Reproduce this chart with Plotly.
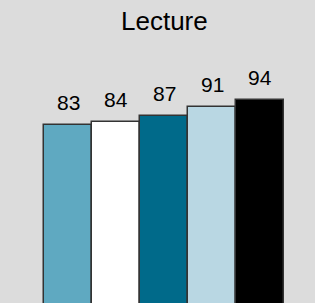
import plotly.graph_objects as go

title = "Lecture"
categories = ["A", "B", "C", "D", "E"]
values = [83, 84, 87, 91, 94]
colors = ["#5fa9c1", "#ffffff", "#006a8a", "#b9d7e3", "#000000"]

bg = "#dcdcdc"
font_family = "Arial, Liberation Sans, sans-serif"

fig = go.Figure()
fig.add_trace(go.Bar(
    x=categories, y=values,
    marker=dict(color=colors, line=dict(color="#333333", width=1.5)),
    hoverinfo="skip", showlegend=False,
))

for c, v in zip(categories, values):
    fig.add_annotation(x=c, y=v, xref="x", yref="y", text=str(v), showarrow=False,
                       yanchor="bottom", yshift=9,
                       font=dict(family=font_family, size=21, color="#000000"))

fig.add_annotation(x=2, y=1 - 21 / 303, xref="x", yref="paper", text=title, showarrow=False,
                   yanchor="middle", xanchor="center",
                   font=dict(family=font_family, size=26, color="#000000"))

fig.update_layout(
    width=315, height=303,
    margin=dict(l=0, r=0, t=0, b=0),
    paper_bgcolor=bg, plot_bgcolor=bg,
    bargap=0,
    xaxis=dict(type="category", range=[-1.4167, 5.1458], visible=False, fixedrange=True),
    yaxis=dict(range=[1.9, 139.6], visible=False, fixedrange=True),
)

fig.write_html("out.html", config={"displayModeBar": False},
               post_script="document.body.style.margin='0';document.body.style.overflow='hidden';document.body.style.background='%s';" % bg)
